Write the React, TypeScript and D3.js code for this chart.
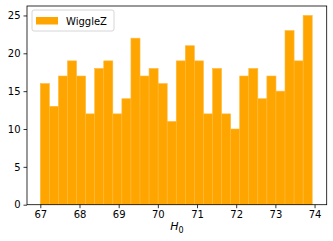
import React, { useEffect, useRef } from 'react';
import * as d3 from 'd3';

// histogram counts, 30 bins between binStart and binEnd
const counts = [16, 13, 17, 19, 17, 12, 18, 19, 12, 14, 22, 17, 18, 16, 11, 19, 21, 19, 12, 18, 12, 10, 17, 18, 14, 17, 15, 23, 19, 25];
const binStart = 67.0;
const binEnd = 73.94;
const xTicks = [67, 68, 69, 70, 71, 72, 73, 74];
const yTicks = [0, 5, 10, 15, 20, 25];
const legendLabel = 'WiggleZ';

const App = () => {
  const ref = useRef<SVGSVGElement>(null);

  useEffect(() => {
    const svg = d3.select(ref.current);
    svg.selectAll('*').remove();

    const left = 27, right = 326.7, top = 6, bottom = 204.7;
    const font = 'DejaVu Sans, sans-serif';

    const x = d3.scaleLinear().domain([66.66, 74.31]).range([left, right]);
    const y = d3.scaleLinear().domain([0, 26.25]).range([bottom, top]);

    const w = (binEnd - binStart) / counts.length;
    const bins = counts.map((c, i) => ({ x0: binStart + i * w, x1: binStart + (i + 1) * w, c }));

    svg.append('g')
      .selectAll('rect')
      .data(bins)
      .enter()
      .append('rect')
      .attr('x', d => x(d.x0))
      .attr('y', d => y(d.c))
      .attr('width', d => x(d.x1) - x(d.x0))
      .attr('height', d => y(0) - y(d.c))
      .attr('fill', '#ffa500')
      .attr('stroke', '#ffb93a')
      .attr('stroke-width', 0.6);

    // frame
    svg.append('rect')
      .attr('x', left).attr('y', top)
      .attr('width', right - left).attr('height', bottom - top)
      .attr('fill', 'none').attr('stroke', '#000').attr('stroke-width', 0.8);

    const xAxis = svg.append('g')
      .attr('transform', `translate(0,${bottom})`)
      .call(d3.axisBottom(x).tickValues(xTicks).tickSize(3.5).tickPadding(3).tickFormat(d3.format('d')));
    const yAxis = svg.append('g')
      .attr('transform', `translate(${left},0)`)
      .call(d3.axisLeft(y).tickValues(yTicks).tickSize(3.5).tickPadding(3).tickFormat(d3.format('d')));

    [xAxis, yAxis].forEach(g => {
      g.select('.domain').remove();
      g.selectAll('line').attr('stroke', '#000').attr('stroke-width', 0.8);
      g.selectAll('text').attr('fill', '#000').style('font-family', font).style('font-size', '10px');
    });

    // x label
    const lbl = svg.append('text')
      .attr('x', (left + right) / 2)
      .attr('y', 230)
      .attr('text-anchor', 'middle')
      .style('font-family', font)
      .style('font-size', '11px');
    lbl.append('tspan').style('font-style', 'italic').text('H');
    lbl.append('tspan').attr('dy', 2.5).style('font-size', '8px').text('0');

    // legend
    const lg = svg.append('g');
    lg.append('rect')
      .attr('x', 32).attr('y', 10).attr('width', 82).attr('height', 21).attr('rx', 2)
      .attr('fill', '#fff').attr('fill-opacity', 0.8)
      .attr('stroke', '#ccc').attr('stroke-width', 0.8);
    lg.append('rect')
      .attr('x', 36).attr('y', 17).attr('width', 22).attr('height', 7.5)
      .attr('fill', '#ffa500');
    lg.append('text')
      .attr('x', 66).attr('y', 24.5)
      .style('font-family', font).style('font-size', '10px')
      .text(legendLabel);
  }, []);

  return (
    <svg ref={ref} width={333} height={241}
      style={{ position: 'fixed', left: 0, top: 0, background: '#fff' }} />
  );
};

export default App;
